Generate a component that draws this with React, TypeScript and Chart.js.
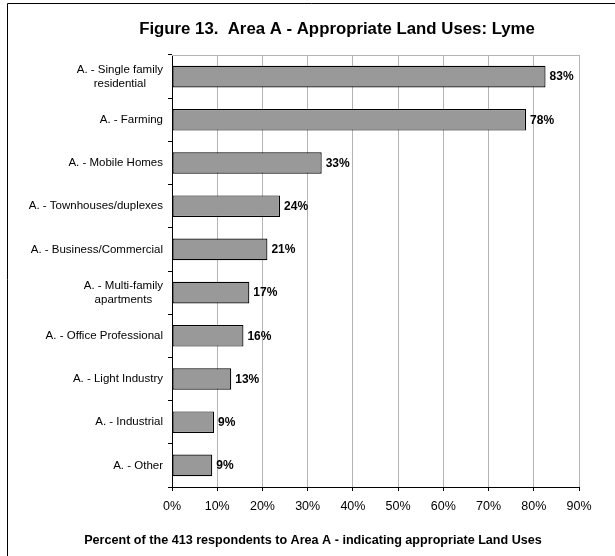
import React, { useEffect, useRef } from "react";
import { Chart, registerables } from "chart.js";

Chart.register(...registerables);

const categories: string[][] = [
  ["A. - Single family", "residential"],
  ["A. - Farming"],
  ["A. - Mobile Homes"],
  ["A. - Townhouses/duplexes"],
  ["A. - Business/Commercial"],
  ["A. - Multi-family", "apartments"],
  ["A. - Office Professional"],
  ["A. - Light Industry"],
  ["A. - Industrial"],
  ["A. - Other"],
];
const values: number[] = [82.6, 78.3, 33.1, 23.9, 21.1, 17.1, 15.8, 13.1, 9.3, 8.9];
const valueLabels: string[] = ["83%", "78%", "33%", "24%", "21%", "17%", "16%", "13%", "9%", "9%"];
const chartTitle = "Figure 13.  Area A - Appropriate Land Uses: Lyme";
const axisTitle = "Percent of the 413 respondents to Area A - indicating appropriate Land Uses";

const FONT = "'Liberation Sans', Arial, Helvetica, sans-serif";

const decorPlugin = {
  id: "decor",
  afterDraw(chart: any) {
    const ctx: CanvasRenderingContext2D = chart.ctx;
    const yScale = chart.scales.y;
    const area = chart.chartArea;
    ctx.save();
    // outer frame
    ctx.strokeStyle = "#000";
    ctx.lineWidth = 1;
    ctx.beginPath();
    ctx.moveTo(7.5, 556);
    ctx.lineTo(7.5, 3.5);
    ctx.lineTo(615, 3.5);
    ctx.stroke();
    // plot top border
    ctx.strokeStyle = "#b4b4b4";
    ctx.beginPath();
    ctx.moveTo(area.left, Math.round(area.top) + 0.5);
    ctx.lineTo(area.right, Math.round(area.top) + 0.5);
    ctx.stroke();
    // titles
    ctx.fillStyle = "#000";
    ctx.textAlign = "center";
    ctx.textBaseline = "alphabetic";
    ctx.font = `bold 16.8px ${FONT}`;
    ctx.fillText(chartTitle, 337, 34);
    ctx.font = `bold 12.6px ${FONT}`;
    ctx.fillText(axisTitle, 313, 544);
    // category labels
    ctx.font = `11.5px ${FONT}`;
    ctx.textBaseline = "middle";
    categories.forEach((lines, i) => {
      const cy = yScale.getPixelForValue(i);
      const w = Math.max(...lines.map((l) => ctx.measureText(l).width));
      const cx = area.left - 9 - w / 2;
      const lh = 13.5;
      lines.forEach((l, j) => {
        ctx.fillText(l, cx, cy + (j - (lines.length - 1) / 2) * lh);
      });
    });
    // value labels
    const meta = chart.getDatasetMeta(0);
    ctx.font = `bold 12px ${FONT}`;
    ctx.textAlign = "left";
    meta.data.forEach((bar: any, i: number) => {
      ctx.fillText(valueLabels[i], bar.x + 4, bar.y + 0.5);
    });
    ctx.restore();
  },
};

export default function App() {
  const ref = useRef<HTMLCanvasElement | null>(null);
  useEffect(() => {
    document.body.style.margin = "0";
    if (!ref.current) return;
    const chart = new Chart(ref.current, {
      type: "bar",
      data: {
        labels: categories.map((c) => c.join(" ")),
        datasets: [
          {
            data: values,
            backgroundColor: "#999999",
            borderColor: "#000000",
            borderWidth: 1.2,
            borderSkipped: false,
            barPercentage: 0.5,
            categoryPercentage: 1,
          },
        ],
      },
      options: {
        indexAxis: "y",
        responsive: false,
        animation: false,
        devicePixelRatio: 1,
        layout: { padding: { top: 55, right: 36, left: 0, bottom: 0 } },
        plugins: {
          legend: { display: false },
          title: { display: false },
          tooltip: { enabled: false },
        },
        scales: {
          x: {
            type: "linear",
            min: 0,
            max: 90,
            afterFit: (s: any) => {
              s.height = 69;
            },
            ticks: {
              stepSize: 10,
              callback: (v: any) => `${v}%`,
              color: "#000",
              font: { family: FONT, size: 12.5 },
              padding: 8,
            },
            grid: {
              color: "#b4b4b4",
              tickColor: "#000",
              tickLength: 4,
              drawTicks: true,
            },
            border: { display: true, color: "#000", width: 1 },
          },
          y: {
            type: "category",
            offset: true,
            afterFit: (s: any) => {
              s.width = 172;
            },
            ticks: { display: false },
            grid: {
              offset: true,
              drawOnChartArea: false,
              color: "#000",
              tickColor: "#000",
              tickLength: 4,
            },
            border: { display: true, color: "#000", width: 1 },
          },
        },
      },
      plugins: [decorPlugin],
    } as any);
    return () => chart.destroy();
  }, []);
  return (
    <div style={{ width: 615, height: 556 }}>
      <canvas ref={ref} width={615} height={556} style={{ display: "block" }} />
    </div>
  );
}
